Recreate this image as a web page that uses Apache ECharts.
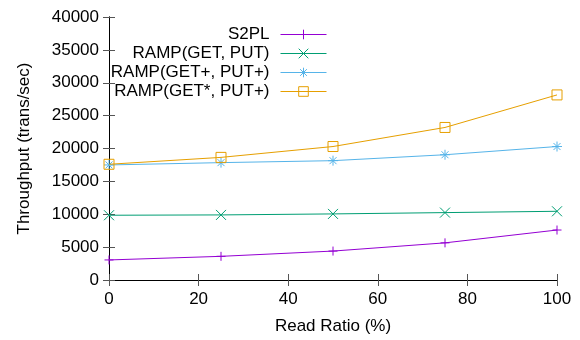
<!DOCTYPE html>
<html>
<head>
<meta charset="utf-8">
<script src="https://cdn.jsdelivr.net/npm/echarts@6/dist/echarts.min.js"></script>
<style>
html,body{margin:0;padding:0;background:#fff;}
#chart{width:580px;height:340px;}
</style>
</head>
<body>
<div id="chart"></div>
<script>
// Data
const readRatio = [0, 25, 50, 75, 100];
const seriesNames = ['S2PL', 'RAMP(GET, PUT)', 'RAMP(GET+, PUT+)', 'RAMP(GET*, PUT+)'];
const s2pl = [3050, 3600, 4400, 5650, 7600];
const rampGetPut = [9850, 9900, 10050, 10250, 10450];
const rampGetPlusPutPlus = [17500, 17850, 18150, 19050, 20300];
const rampGetStarPutPlus = [17600, 18650, 20300, 23200, 28150];
const xTicks = [0, 20, 40, 60, 80, 100];
const yTicks = [0, 5000, 10000, 15000, 20000, 25000, 30000, 35000, 40000];

const colors = ['#9400d3', '#009e73', '#56b4e9', '#e69f00'];
const symbols = [
  'path://M5,0 L5,10 M0,5 L10,5',
  'path://M0,0 L10,10 M0,10 L10,0',
  'path://M5,0 L5,10 M0,5 L10,5 M1.5,1.5 L8.5,8.5 M1.5,8.5 L8.5,1.5',
  'path://M0,0 L10,0 L10,10 L0,10 Z'
];
const symbolSizes = [9, 10, 10, 10];
const allData = [s2pl, rampGetPut, rampGetPlusPutPlus, rampGetStarPutPlus];

const font = 'Liberation Sans, Arial, sans-serif';
const fs = 17;
const chart = echarts.init(document.getElementById('chart'), null, {renderer: 'canvas'});

const series = seriesNames.map((name, i) => ({
  name: name,
  type: 'line',
  xAxisIndex: 0,
  yAxisIndex: 0,
  data: readRatio.map((x, j) => [x, allData[i][j]]),
  symbol: symbols[i],
  symbolSize: symbolSizes[i],
  showSymbol: true,
  lineStyle: {color: colors[i], width: 1},
  itemStyle: {color: 'none', borderColor: colors[i], borderWidth: 1},
  emphasis: {disabled: true},
  animation: false,
  z: 2 + i
}));

const axisCommon = {
  axisLine: {show: true, lineStyle: {color: '#000', width: 1}},
  axisTick: {show: true, inside: true, length: 6, lineStyle: {color: '#555', width: 1}},
  splitLine: {show: false}
};

chart.setOption({
  animation: false,
  backgroundColor: '#fff',
  textStyle: {fontFamily: font},
  grid: {left: 109, right: 23, top: 17, bottom: 58, containLabel: false},
  legend: {
    orient: 'vertical',
    align: 'right',
    right: 248,
    top: 21,
    itemWidth: 46,
    itemHeight: 12,
    itemGap: 2,
    data: seriesNames,
    lineStyle: {width: 1},
    itemStyle: {borderWidth: 1},
    textStyle: {fontFamily: font, fontSize: fs, color: '#000', padding: [0, 6, 0, 0]},
    selectedMode: false
  },
  xAxis: [
    Object.assign({}, axisCommon, {
      type: 'value', min: 0, max: 100, interval: 20, position: 'bottom',
      name: 'Read Ratio (%)', nameLocation: 'middle', nameGap: 38,
      nameTextStyle: {fontFamily: font, fontSize: fs, color: '#000'},
      axisLabel: {fontFamily: font, fontSize: fs, color: '#000', margin: 11,
        formatter: v => xTicks.includes(v) ? String(v) : ''}
    }),
    Object.assign({}, axisCommon, {
      type: 'value', min: 0, max: 100, interval: 20, position: 'top',
      axisLabel: {show: false}
    })
  ],
  yAxis: [
    Object.assign({}, axisCommon, {
      type: 'value', min: 0, max: 40000, interval: 5000, position: 'left',
      name: 'Throughput (trans/sec)', nameLocation: 'middle', nameGap: 76,
      nameTextStyle: {fontFamily: font, fontSize: fs, color: '#000'},
      axisLabel: {fontFamily: font, fontSize: fs, color: '#000', margin: 10,
        formatter: v => yTicks.includes(v) ? String(v) : ''}
    }),
    Object.assign({}, axisCommon, {
      type: 'value', min: 0, max: 40000, interval: 5000, position: 'right',
      axisLabel: {show: false}
    })
  ],
  series: series
});
</script>
</body>
</html>
